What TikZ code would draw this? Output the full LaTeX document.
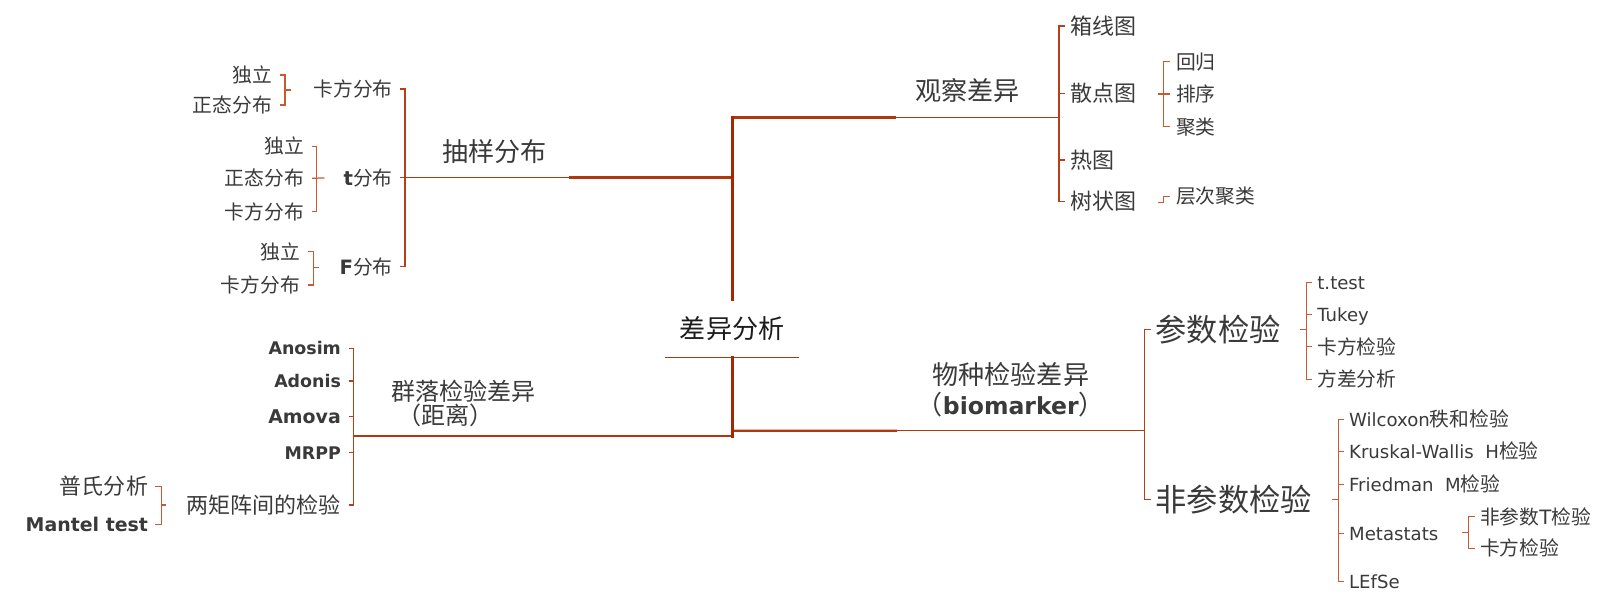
\documentclass[tikz,border=0pt]{standalone}
\usepackage{fontspec}
\usetikzlibrary{calc}
\setmainfont{DejaVu Sans}
\newfontfamily\lat{DejaVu Sans}
\newfontfamily\zh{Noto Sans CJK SC}
\newcommand\zhsz[1]{\zh\fontsize{#1}{#1}\selectfont}
\definecolor{ink}{HTML}{3A3A3A}
\definecolor{rootink}{HTML}{1C1C1C}
\definecolor{trunkc}{HTML}{A52805}
\definecolor{branchc}{HTML}{B0380F}
\definecolor{spinec}{HTML}{B4401A}
\definecolor{brackc}{HTML}{C85A32}
\begin{document}
\begin{tikzpicture}[x=1pt,y=-1pt,
  every node/.style={inner sep=0pt,outer sep=0pt,text=ink},
  % one-line labels: box centre sits on the visual middle of the glyphs
  zs/.style={font=\zhsz{19.3},text height=16.4pt,text depth=1.93pt},
  zm/.style={font=\zhsz{21.5},text height=18.28pt,text depth=2.15pt},
  zl/.style={font=\zhsz{25.5},text height=21.68pt,text depth=2.55pt},
  zx/.style={font=\zhsz{30.5},text height=25.93pt,text depth=3.05pt},
  ls/.style={font=\lat\fontsize{17.7}{17.7}\selectfont,text height=15.05pt,text depth=1.77pt},
  lb/.style={font=\lat\bfseries\fontsize{17}{17}\selectfont,text height=14.45pt,text depth=1.7pt},
  lbb/.style={font=\lat\bfseries\fontsize{18.5}{18.5}\selectfont,text height=15.73pt,text depth=1.85pt},
  trunk/.style={draw=trunkc,line width=3.2pt,line cap=rect},
  branch/.style={draw=branchc,line width=1.4pt},
  branchhi/.style={draw=branchc,line width=2.4pt},
  spine/.style={draw=spinec,line width=1.5pt},
  brk/.style={draw=brackc,line width=1.2pt},
]
\fill[white] (0,0) rectangle (1568,600);
\useasboundingbox (0,0) rectangle (1568,600);

% ---------- root ----------
\node[font=\zhsz{25.5},text=rootink,minimum width=131pt,minimum height=56.4pt,
      text height=21.68pt,text depth=2.55pt] (root) at (715.3,320.8) {差异分析};
\draw[draw=branchc,line width=1.2pt] (root.south west) -- (root.south east);

\coordinate (jt) at (715.3,114.6);
\coordinate (jl) at (715.3,173.6);
\coordinate (jb) at (715.3,426);
\coordinate (jr) at (715.3,420.8);
\coordinate (s1) at (395.6,173.6);
\coordinate (s2) at (1034.6,114.6);
\coordinate (s3) at (345.4,426);
\coordinate (s4) at (1118.3,420.8);

\draw[branch] (jl) -- (s1);
\draw[branchhi] (jl) -- ($(jl)!0.5!(s1)$);
\draw[branch] (jt) -- (s2);
\draw[branchhi] (jt) -- ($(jt)!0.5!(s2)$);
\draw[branch] (jb) -- (s3);
\draw[branchhi] (jb) -- ($(jb)!0.44!(s3)$);
\draw[branch] (jr) -- (s4);
\draw[branchhi] (jr) -- ($(jr)!0.4!(s4)$);
\draw[trunk] (root.north) -- (jt);
\draw[trunk] (root.south) -- (jb);

% ---------- sampling distributions ----------
\node[zl] (cy) at (483.2,148.2) {抽样分布};
\node[zs,anchor=east] (kf) at (383.5,87) {卡方分布};
\node[zs,anchor=east] (td) at (383.5,173.6) {{\lat\bfseries t}分布};
\node[zs,anchor=east] (fd) at (383.5,260.5) {{\lat\bfseries F}分布};
\draw[spine] ([xshift=7pt]kf.east) -| (s1) |- ([xshift=7pt]fd.east);
\draw[spine] ([xshift=7pt]td.east) -- (s1);

\node[zs,anchor=east] (kf1) at (265.5,73.3) {独立};
\node[zs,anchor=east] (kf2) at (265.5,102.6) {正态分布};
\coordinate (b11) at (278.5,88);
\draw[brk] ([xshift=8.5pt]kf1.east) -| (b11) |- ([xshift=8.5pt]kf2.east);
\draw[brk] (b11) -- ([xshift=6pt]b11);

\node[zs,anchor=east] (td1) at (297,143) {独立};
\node[zs,anchor=east] (td2) at (297,174.2) {正态分布};
\node[zs,anchor=east] (td3) at (297,206.8) {卡方分布};
\coordinate (b12) at (309.5,173.8);
\draw[brk] ([xshift=8pt]td1.east) -| (b12) |- ([xshift=8pt]td3.east);
\draw[brk] ([xshift=8pt]td2.east) -- ([xshift=7.5pt]b12);

\node[zs,anchor=east] (fd1) at (293,245.8) {独立};
\node[zs,anchor=east] (fd2) at (293,278.4) {卡方分布};
\coordinate (b13) at (306.6,261);
\draw[brk] ([xshift=8pt]fd1.east) -| (b13) |- ([xshift=8pt]fd2.east);
\draw[brk] (b13) -- ([xshift=5pt]b13);

% ---------- observing differences ----------
\node[zl] (gc) at (945.5,88.6) {观察差异};
\node[zm,anchor=west] (g1) at (1046,25.4) {箱线图};
\node[zm,anchor=west] (g2) at (1046,91.2) {散点图};
\node[zm,anchor=west] (g3) at (1046,156.3) {热图};
\node[zm,anchor=west] (g4) at (1046,197) {树状图};
\draw[spine] ([xshift=-6pt]g1.west) -| (s2) |- ([xshift=-6pt]g4.west);
\draw[spine] ([xshift=-6pt]g2.west) -- (g2.west -| s2);
\draw[spine] ([xshift=-6pt]g3.west) -- (g3.west -| s2);

\node[zs,anchor=west] (h1) at (1149,60.2) {回归};
\node[zs,anchor=west] (h2) at (1149,91.8) {排序};
\node[zs,anchor=west] (h3) at (1149,123.7) {聚类};
\coordinate (b21) at (1137,91.8);
\draw[brk] ([xshift=-6pt]h1.west) -| (b21) |- ([xshift=-6pt]h3.west);
\draw[brk] ([xshift=-5.5pt]b21) -- ([xshift=-6pt]h2.west);

\node[zs,anchor=west] (h4) at (1149,192) {层次聚类};
\coordinate (b22) at (1137,198);
\draw[brk] ([xshift=-5.5pt]b22) -- (b22) |- ([xshift=-6pt]h4.west);

% ---------- community tests ----------
\node[anchor=west,align=left,font=\zh\fontsize{23.5}{22.8}\selectfont] (ql) at (382.5,394)
  {群落检验差异\\\hspace{0.25em}（距离）};
\node[lb,anchor=east] (n1) at (333,340.3) {Anosim};
\node[lb,anchor=east] (n2) at (333,372.2) {Adonis};
\node[lbb,anchor=east] (n3) at (333,407) {Amova};
\node[lb,anchor=east] (n4) at (333,442.2) {MRPP};
\node[zm,anchor=east] (n5) at (333,493.4) {两矩阵间的检验};
\draw[spine] ([xshift=7.5pt]n1.east) -| (s3) |- ([xshift=7.5pt]n5.east);
\draw[spine] ([xshift=7.5pt]n2.east) -- (n2.east -| s3);
\draw[spine] ([xshift=7.5pt]n3.east) -- (n3.east -| s3);
\draw[spine] ([xshift=7.5pt]n4.east) -- (n4.east -| s3);

\node[zm,anchor=east] (m1) at (144.6,475.5) {普氏分析};
\node[lbb,anchor=east] (m2) at (144.6,512.2) {Mantel test};
\coordinate (b31) at (158,493.4);
\draw[brk] ([xshift=6.5pt]m1.east) -| (b31) |- ([xshift=6.5pt]m2.east);
\draw[brk] (b31) -- ([xshift=4pt]b31);

% ---------- species tests ----------
\node[align=center,font=\zh\fontsize{25.5}{29.3}\selectfont] (wz) at (987.5,381)
  {物种检验差异\\（{\lat\bfseries\fontsize{23}{29.3}\selectfont biomarker}）};
\node[zx,anchor=west] (cs) at (1129,321.7) {参数检验};
\node[zx,anchor=west] (fc) at (1129,487.8) {非参数检验};
\draw[spine] ([xshift=-5pt]cs.west) -| (s4) |- ([xshift=-5pt]fc.west);

\node[ls,anchor=west] (p1) at (1287,275.8) {t.test};
\node[ls,anchor=west] (p2) at (1287,307) {Tukey};
\node[zs,anchor=west] (p3) at (1287,338.7) {卡方检验};
\node[zs,anchor=west] (p4) at (1287,370.6) {方差分析};
\coordinate (b41) at (1276.6,321.7);
\draw[brk] ([xshift=-5.5pt]p1.west) -| (b41) |- ([xshift=-5.5pt]p4.west);
\draw[brk] ([xshift=-5.5pt]p2.west) -- (p2.west -| b41);
\draw[brk] ([xshift=-5.5pt]p3.west) -- (p3.west -| b41);
\draw[brk] ([xshift=-6.5pt]b41) -- (b41);

\node[ls,anchor=west] (q1) at (1318,409.7) {Wilcoxon{\zhsz{19.3}秩和检验}};
\node[ls,anchor=west] (q2) at (1318,441.2) {Kruskal-Wallis\ \ H{\zhsz{19.3}检验}};
\node[ls,anchor=west] (q3) at (1318,473.2) {Friedman\ \ M{\zhsz{19.3}检验}};
\node[ls,anchor=west] (q4) at (1318,521) {Metastats};
\node[ls,anchor=west] (q5) at (1318,568.2) {LEfSe};
\coordinate (b42) at (1307.5,487.8);
\draw[brk] ([xshift=-5pt]q1.west) -| (b42) |- ([xshift=-5pt]q5.west);
\draw[brk] ([xshift=-5pt]q2.west) -- (q2.west -| b42);
\draw[brk] ([xshift=-5pt]q3.west) -- (q3.west -| b42);
\draw[brk] ([xshift=-5pt]q4.west) -- (q4.west -| b42);
\draw[brk] ([xshift=-6.5pt]b42) -- (b42);

\node[zs,anchor=west] (r1) at (1446,504.7) {非参数{\lat T}检验};
\node[zs,anchor=west] (r2) at (1446,535.7) {卡方检验};
\coordinate (b43) at (1435,520);
\draw[brk] ([xshift=-5pt]r1.west) -| (b43) |- ([xshift=-5pt]r2.west);
\draw[brk] ([xshift=-6.7pt]b43) -- (b43);
\end{tikzpicture}
\end{document}
